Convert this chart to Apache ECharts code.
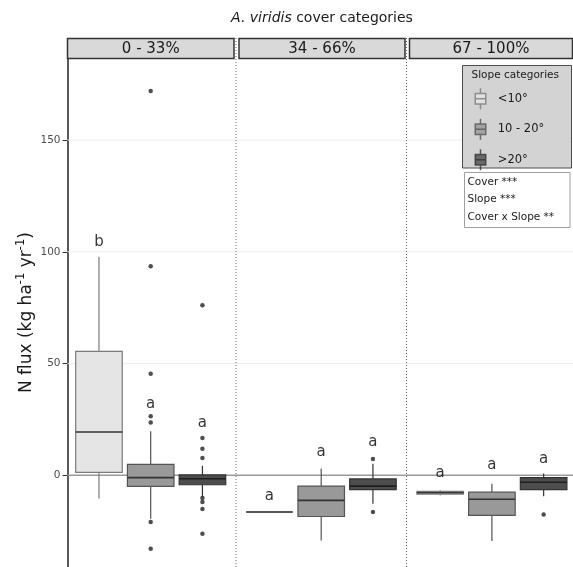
<!DOCTYPE html>
<html><head><meta charset="utf-8">
<script src="https://cdn.jsdelivr.net/npm/echarts@6/dist/echarts.min.js"></script>
<style>html,body{margin:0;padding:0;background:#fff}#c{width:573px;height:567px}</style>
</head><body><div id="c"></div>
<script>
// ---------------- data ----------------
const titleItalic = 'A. viridis';
const titleRest = ' cover categories';
const panelLabels = ['0 - 33%', '34 - 66%', '67 - 100%'];
const slopeCategories = ['<10°', '10 - 20°', '>20°'];
const yTicks = [0, 50, 100, 150];
const gridValues = [50, 100, 150];
const zeroValue = 0;
// [lower whisker, Q1, median, Q3, upper whisker] for <10°, 10-20°, >20°
const boxes0to33 = [[-10.4, 1.3, 19.4, 55.5, 97.8], [-19.4, -4.9, -1.0, 4.9, 19.7], [-9.7, -4.2, -1.5, 0.2, 4.3]];
const boxes34to66 = [[-16.4, -16.4, -16.4, -16.4, -16.4], [-29.1, -18.4, -11.2, -4.8, 3.1], [-12.7, -6.4, -4.8, -1.6, 5.2]];
const boxes67to100 = [[-9.0, -8.4, -7.8, -7.2, -6.7], [-29.4, -17.9, -10.7, -7.5, -3.7], [-9.3, -6.4, -3.1, -1.0, 0.8]];
// outliers: [slope category index, value]
const outliers0to33 = [[1, 172], [1, 93.6], [1, 45.5], [1, 26.4], [1, 23.6], [1, -20.9], [1, -32.8],
  [2, 76.1], [2, 16.7], [2, 11.9], [2, 7.8], [2, -10.1], [2, -11.9], [2, -15.1], [2, -26.1]];
const outliers34to66 = [[2, 7.3], [2, -16.4]];
const outliers67to100 = [[2, -17.5]];
// significance letters: [slope category index, value, letter]
const letters0to33 = [[0, 103.9, 'b'], [1, 31.3, 'a'], [2, 22.8, 'a']];
const letters34to66 = [[0, -9.7, 'a'], [1, 9.9, 'a'], [2, 14.3, 'a']];
const letters67to100 = [[0, 0.4, 'a'], [1, 4.0, 'a'], [2, 7.0, 'a']];
const legendTitle = 'Slope categories';
const statsLines = ['Cover ***', 'Slope ***', 'Cover x Slope **'];

// ---------------- styles / layout ----------------
const FONT = 'DejaVu Sans';
const yMin = -41, yMax = 186.6;
const plotTop = 58.3;
const panelGridLeft = [73.1, 243.6, 414.3];
const panelGridWidth = 155.2;
const stripRects = [[67.5, 166.5], [239, 166], [409.5, 163]];
const dividerX = [236, 406.5];
const boxStyles = [
  {fill: '#e5e5e5', line: '#7a7a7a', median: '#333333'},
  {fill: '#999999', line: '#555555', median: '#333333'},
  {fill: '#4d4d4d', line: '#333333', median: '#1f1f1f'}
];
const allBoxes = [boxes0to33, boxes34to66, boxes67to100];
const allOutliers = [outliers0to33, outliers34to66, outliers67to100];
const allLetters = [letters0to33, letters34to66, letters67to100];

function renderBox(params, api) {
  const i = api.value(0);
  const x = api.coord([i, 0])[0];
  const yLo = api.coord([i, api.value(1)])[1];
  const yQ1 = api.coord([i, api.value(2)])[1];
  const yMed = api.coord([i, api.value(3)])[1];
  const yQ3 = api.coord([i, api.value(4)])[1];
  const yHi = api.coord([i, api.value(5)])[1];
  const bw = api.size([1, 0])[0] * 0.9;
  const st = boxStyles[i];
  return {type: 'group', children: [
    {type: 'line', shape: {x1: x, y1: yHi, x2: x, y2: yQ3}, style: {stroke: st.line, lineWidth: 1.2}},
    {type: 'line', shape: {x1: x, y1: yQ1, x2: x, y2: yLo}, style: {stroke: st.line, lineWidth: 1.2}},
    {type: 'rect', shape: {x: x - bw / 2, y: yQ3, width: bw, height: yQ1 - yQ3}, style: {fill: st.fill, stroke: st.line, lineWidth: 1.2}},
    {type: 'line', shape: {x1: x - bw / 2, y1: yMed, x2: x + bw / 2, y2: yMed}, style: {stroke: st.median, lineWidth: 1.6}}
  ]};
}

const grids = [{left: 67.5, right: 0, top: plotTop, bottom: 0}];
const xAxes = [{gridIndex: 0, type: 'value', min: 0, max: 1, show: false}];
const yAxes = [{
  gridIndex: 0, type: 'value', min: yMin, max: yMax,
  axisLine: {show: true, lineStyle: {color: '#222', width: 1.5}},
  axisTick: {show: true, length: 5, customValues: yTicks, lineStyle: {color: '#333'}},
  axisLabel: {show: true, customValues: yTicks, margin: 7, fontSize: 10.5, color: '#4d4d4d', fontFamily: FONT},
  splitLine: {show: false},
  name: '{a|N flux (kg ha}{s|-1}{a| yr}{s|-1}{a|)}',
  nameLocation: 'middle', nameRotate: 90, nameGap: 29, nameMoveOverlap: false,
  nameTextStyle: {fontFamily: FONT, color: '#1a1a1a', rich: {
    a: {fontSize: 17, lineHeight: 23, verticalAlign: 'middle', fontFamily: FONT, color: '#1a1a1a'},
    s: {fontSize: 11.5, lineHeight: 11, verticalAlign: 'top', fontFamily: FONT, color: '#1a1a1a'}
  }}
}];
const series = [];
gridValues.forEach(v => series.push({
  type: 'line', xAxisIndex: 0, yAxisIndex: 0, data: [[0, v], [1, v]], symbol: 'none', silent: true, z: 1,
  lineStyle: {color: '#ebebeb', width: 1}
}));
series.push({
  type: 'line', xAxisIndex: 0, yAxisIndex: 0, data: [[0, zeroValue], [1, zeroValue]], symbol: 'none', silent: true, z: 1,
  lineStyle: {color: '#9a9a9a', width: 1.5}
});

for (let p = 0; p < 3; p++) {
  const gi = p + 1;
  grids.push({left: panelGridLeft[p], width: panelGridWidth, top: plotTop, bottom: 0});
  xAxes.push({gridIndex: gi, type: 'category', data: slopeCategories, boundaryGap: true, show: false});
  yAxes.push({gridIndex: gi, type: 'value', min: yMin, max: yMax, show: false, splitLine: {show: false}});
  series.push({
    type: 'custom', xAxisIndex: gi, yAxisIndex: gi, z: 2, silent: true,
    renderItem: renderBox,
    dimensions: ['cat', 'lo', 'q1', 'med', 'q3', 'hi'],
    encode: {x: 0, y: [1, 2, 3, 4, 5]},
    data: allBoxes[p].map((b, i) => [i].concat(b))
  });
  series.push({
    type: 'scatter', xAxisIndex: gi, yAxisIndex: gi, z: 3, silent: true,
    symbolSize: 4.5, itemStyle: {color: '#222'},
    data: allOutliers[p]
  });
  series.push({
    type: 'scatter', xAxisIndex: gi, yAxisIndex: gi, z: 4, silent: true,
    symbolSize: 1, itemStyle: {color: 'rgba(0,0,0,0)'},
    label: {show: true, position: 'inside', fontSize: 15, color: '#000', fontFamily: FONT, offset: [0, -1]},
    data: allLetters[p].map(d => ({value: [d[0], d[1]], label: {formatter: d[2]}}))
  });
}
// legend-only series
slopeCategories.forEach((name, i) => series.push({
  type: 'scatter', name: name, xAxisIndex: 1, yAxisIndex: 1, data: [],
  itemStyle: {color: boxStyles[i].fill, borderColor: boxStyles[i].line, borderWidth: 1}
}));

const boxIcon = 'path://M4 0L4 4M0 4L8 4L8 12L0 12ZM0 8L8 8M4 12L4 16';

const graphics = [];
stripRects.forEach((r, p) => {
  graphics.push({type: 'rect', z: 5, shape: {x: r[0], y: 38.5, width: r[1], height: 20},
    style: {fill: '#d9d9d9', stroke: '#333', lineWidth: 1.5}});
  graphics.push({type: 'text', z: 6, x: r[0] + r[1] / 2, y: 48.8,
    style: {text: panelLabels[p], font: '15px "DejaVu Sans"', fill: '#1a1a1a', textAlign: 'center', textVerticalAlign: 'middle'}});
});
dividerX.forEach(x => graphics.push({type: 'line', z: 4, shape: {x1: x, y1: 38, x2: x, y2: 567},
  style: {stroke: '#666', lineWidth: 1, lineDash: [1, 2]}}));
graphics.push({type: 'rect', z: 5, shape: {x: 462.5, y: 65.5, width: 109, height: 102.5},
  style: {fill: '#d3d3d3', stroke: '#4d4d4d', lineWidth: 1}});
graphics.push({type: 'text', z: 6, x: 471.5, y: 75.5,
  style: {text: legendTitle, font: '10.5px "DejaVu Sans"', fill: '#1a1a1a', textAlign: 'left', textVerticalAlign: 'middle'}});
graphics.push({type: 'rect', z: 5, shape: {x: 464.5, y: 172.5, width: 105.5, height: 55},
  style: {fill: '#ffffff', stroke: '#a0a0a0', lineWidth: 1}});
statsLines.forEach((t, i) => graphics.push({type: 'text', z: 6, x: 467.5, y: 182 + i * 17.7,
  style: {text: t, font: '10.5px "DejaVu Sans"', fill: '#1a1a1a', textAlign: 'left', textVerticalAlign: 'middle'}}));

const option = {
  animation: false,
  backgroundColor: '#ffffff',
  textStyle: {fontFamily: FONT},
  title: {
    text: '{i|' + titleItalic + '}' + titleRest,
    left: 322, top: 11, padding: 0, textAlign: 'center',
    textStyle: {fontSize: 14, fontWeight: 'normal', color: '#1a1a1a', fontFamily: FONT,
      rich: {i: {fontStyle: 'italic', fontSize: 14, color: '#1a1a1a', fontFamily: FONT}}}
  },
  legend: {
    z: 10, orient: 'vertical', left: 474.5, top: 87.5, itemWidth: 10.5, itemHeight: 21, itemGap: 8,
    selectedMode: false, symbolKeepAspect: true, padding: 0,
    formatter: '{t|{name}}',
    textStyle: {fontSize: 11.5, color: '#1a1a1a', fontFamily: FONT,
      rich: {t: {fontSize: 11.5, color: '#1a1a1a', fontFamily: FONT, padding: [0, 0, 0, 7]}}},
    data: slopeCategories.map((n, i) => ({name: n, icon: boxIcon,
      itemStyle: {color: boxStyles[i].fill, borderColor: boxStyles[i].line, borderWidth: 1.5}}))
  },
  grid: grids, xAxis: xAxes, yAxis: yAxes, series: series,
  graphic: {elements: graphics}
};
const chart = echarts.init(document.getElementById('c'), null, {renderer: 'canvas'});
chart.setOption(option);
</script></body></html>
